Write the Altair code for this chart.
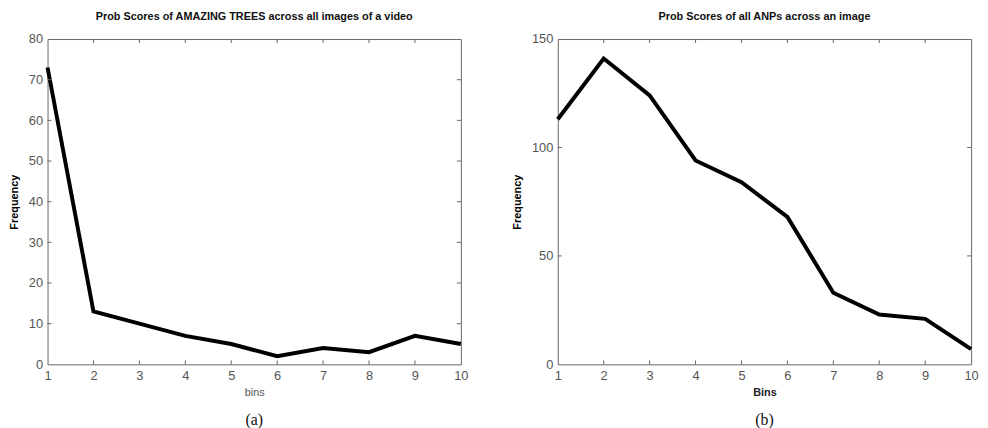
import altair as alt
import pandas as pd

bins = list(range(1, 11))
trees_freq = [73, 13, 10, 7, 5, 2, 4, 3, 7, 5]
anps_freq = [113, 141, 124, 94, 84, 68, 33, 23, 21, 7]
x_ticks = list(range(1, 11))
trees_y_ticks = list(range(0, 81, 10))
anps_y_ticks = [0, 50, 100, 150]

W, H = 418, 329
AX = "#666666"
LAB = "#555555"
FONT = "Liberation Sans"


def panel(values, yticks, ymax, title, xtitle, xbold, caption):
    df = pd.DataFrame({"bin": bins, "freq": values})
    xs = alt.Scale(domain=[1, 10], nice=False, zero=False)
    ys = alt.Scale(domain=[0, ymax], nice=False)

    line = alt.Chart(df).mark_line(color="black", strokeWidth=4).encode(
        x=alt.X("bin:Q", scale=xs, axis=alt.Axis(
            values=x_ticks, title=xtitle, ticks=False, domain=False, grid=False,
            labelFlush=False, labelFont=FONT, labelFontSize=13, labelColor=LAB,
            labelPadding=5, titleFont=FONT, titleFontSize=11,
            titleFontWeight="bold" if xbold else "normal",
            titleColor="#222222" if xbold else LAB, titlePadding=5)),
        y=alt.Y("freq:Q", scale=ys, axis=alt.Axis(
            values=yticks, title="Frequency", ticks=False, domain=False, grid=False,
            labelFlush=False, labelFont=FONT, labelFontSize=13, labelColor=LAB,
            labelPadding=5, titleFont=FONT, titleFontSize=11, titleFontWeight="bold",
            titleColor="black", titlePadding=9)),
    )

    xt = pd.DataFrame({"bin": x_ticks[1:-1]})
    yt = pd.DataFrame({"freq": yticks[1:-1]})
    bottom = alt.Chart(xt).mark_rule(color=AX).encode(
        x=alt.X("bin:Q", scale=xs), y=alt.value(H), y2=alt.value(H - 4))
    top = alt.Chart(xt).mark_rule(color=AX).encode(
        x=alt.X("bin:Q", scale=xs), y=alt.value(0), y2=alt.value(4))
    left = alt.Chart(yt).mark_rule(color=AX).encode(
        y=alt.Y("freq:Q", scale=ys), x=alt.value(0), x2=alt.value(4))
    right = alt.Chart(yt).mark_rule(color=AX).encode(
        y=alt.Y("freq:Q", scale=ys), x=alt.value(W - 4), x2=alt.value(W))

    cap = alt.Chart(pd.DataFrame({"c": [caption]})).mark_text(
        font="Liberation Serif", fontSize=16, color="#111111", baseline="middle"
    ).encode(text="c:N", x=alt.value(W / 2), y=alt.value(H + 56))

    return alt.layer(line, bottom, top, left, right, cap).properties(
        width=W, height=H,
        title=alt.TitleParams(title, font=FONT, fontSize=11, fontWeight="bold",
                              color="#111111", offset=11, anchor="middle",
                              frame="group"),
    )


a = panel(trees_freq, trees_y_ticks, 80,
          "Prob Scores of AMAZING TREES across all images of a video", "bins", False, "(a)")
b = panel(anps_freq, anps_y_ticks, 150,
          "Prob Scores of all ANPs across an image", "Bins", True, "(b)")

chart = alt.hconcat(a, b, spacing=98, bounds="flush", padding=0).configure_view(
    stroke=AX, strokeWidth=1
)

chart.save("out.html", embed_options={"renderer": "svg", "actions": False})
